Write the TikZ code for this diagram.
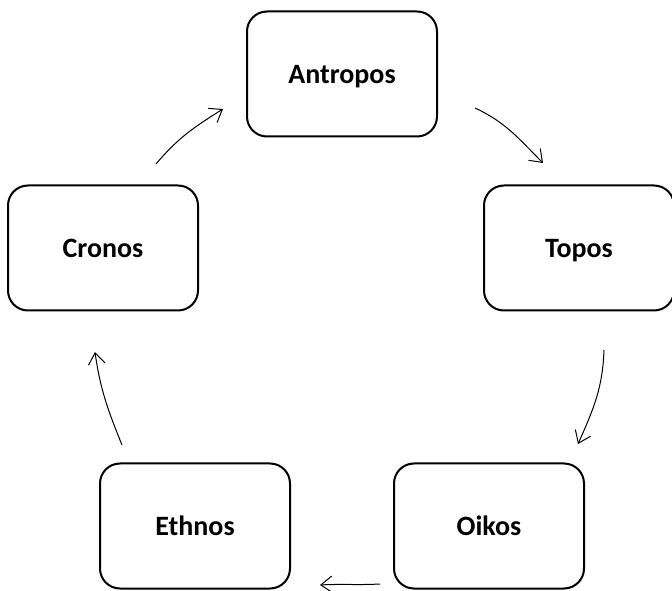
\documentclass[tikz,border=0pt]{standalone}
\usepackage{fontspec}
\setmainfont{Carlito}
\usetikzlibrary{arrows.meta,calc}
\tikzset{
  box/.style={draw, line width=1.5pt, rounded corners=15pt, minimum width=142.5pt, minimum height=93.75pt, inner sep=0pt, text depth=0pt, font=\fontsize{21}{25}\selectfont\bfseries},
  conn/.style={line width=0.75pt, -{Straight Barb[length=8.5pt,width=12.5pt,line width=0.75pt]}}
}
\begin{document}
\begin{tikzpicture}[x=0.75pt,y=0.75pt]
\useasboundingbox (0,0) rectangle (672,590);
\node[box] (antropos) at (342,516) {Antropos};
\node[box] (topos) at (579,342) {Topos};
\node[box] (cronos) at (103,342) {Cronos};
\node[box] (ethnos) at (195,64) {Ethnos};
\node[box] (oikos) at (489,64) {Oikos};
\draw[conn] ([shift={(37,-34)}]antropos.east) to[out=-25,in=135] ([shift={(-36,21.5)}]topos.north);
\draw[conn] ([shift={(25,-38.5)}]topos.south) to[out=-92,in=66] ([shift={(89,18.5)}]oikos.north);
\draw[conn] ([shift={(-13,-58)}]oikos.west) to[out=183,in=3] ([shift={(29,-59)}]ethnos.east);
\draw[conn] ([shift={(-73,17.5)}]ethnos.north) to[out=112,in=-82] ([shift={(-8,-40.5)}]cronos.south);
\draw[conn] ([shift={(53,20.5)}]cronos.north) to[out=50,in=-148] ([shift={(-23,-35)}]antropos.west);
\end{tikzpicture}
\end{document}
